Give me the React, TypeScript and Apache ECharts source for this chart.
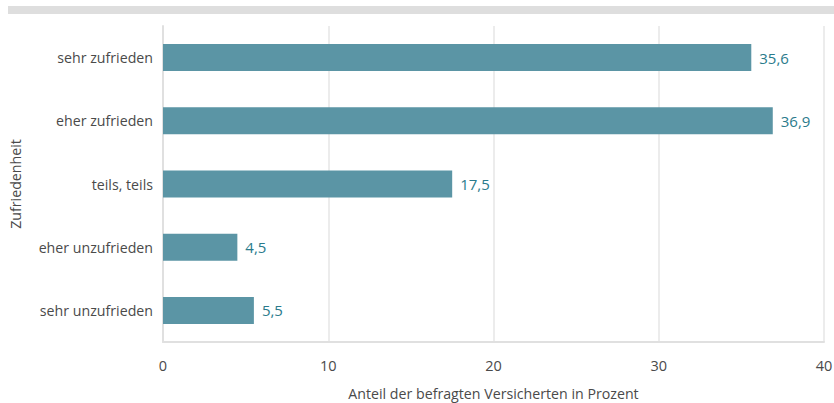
import React, { useEffect, useRef } from "react";
import * as echarts from "echarts";

const categories = ["sehr zufrieden", "eher zufrieden", "teils, teils", "eher unzufrieden", "sehr unzufrieden"];
const values = [35.6, 36.9, 17.5, 4.5, 5.5];
const xAxisName = "Anteil der befragten Versicherten in Prozent";
const yAxisName = "Zufriedenheit";

export default function App() {
  const ref = useRef<HTMLDivElement>(null);
  useEffect(() => {
    document.body.style.margin = "0";
    const chart = echarts.init(ref.current!, null, { renderer: "svg" });
    const font = "'Open Sans', 'Noto Sans', sans-serif";
    chart.setOption({
      animation: false,
      textStyle: { fontFamily: font },
      graphic: [
        { type: "rect", shape: { x: 8, y: 6, width: 826, height: 8 }, style: { fill: "#dedede" } },
      ],
      grid: { left: 163, right: 10, top: 26, bottom: 61, containLabel: false, outerBoundsMode: "none" },
      xAxis: {
        type: "value",
        min: 0,
        max: 40,
        interval: 10,
        name: xAxisName,
        nameLocation: "middle",
        nameGap: 44,
        nameMoveOverlap: false,
        nameTextStyle: { color: "#4a4a4a", fontSize: 14.2, fontFamily: font },
        axisLine: { show: true, lineStyle: { color: "#e0e0e0", width: 2 } },
        axisTick: { show: false },
        axisLabel: { color: "#4a4a4a", fontSize: 14.5, margin: 16, fontFamily: font },
        splitLine: { show: true, lineStyle: { color: "#e6e6e6", width: 1.5 } },
      },
      yAxis: {
        type: "category",
        data: categories,
        inverse: true,
        name: yAxisName,
        nameLocation: "middle",
        nameGap: 141,
        nameRotate: 90,
        nameMoveOverlap: false,
        nameTextStyle: { color: "#4a4a4a", fontSize: 14.2, fontFamily: font },
        axisLine: { show: true, lineStyle: { color: "#e0e0e0", width: 2 } },
        axisTick: { show: false },
        axisLabel: { color: "#4a4a4a", fontSize: 14.2, margin: 10, fontFamily: font },
        splitLine: { show: false },
      },
      series: [
        {
          type: "bar",
          data: values,
          barWidth: 27,
          itemStyle: { color: "#5b95a5" },
          label: {
            show: true,
            position: "right",
            distance: 8,
            color: "#2a7b8c",
            fontSize: 15,
            fontFamily: font,
            formatter: (p: any) => String(p.value).replace(".", ","),
          },
        },
      ],
    });
    return () => chart.dispose();
  }, []);
  return <div ref={ref} style={{ width: 834, height: 403 }} />;
}
